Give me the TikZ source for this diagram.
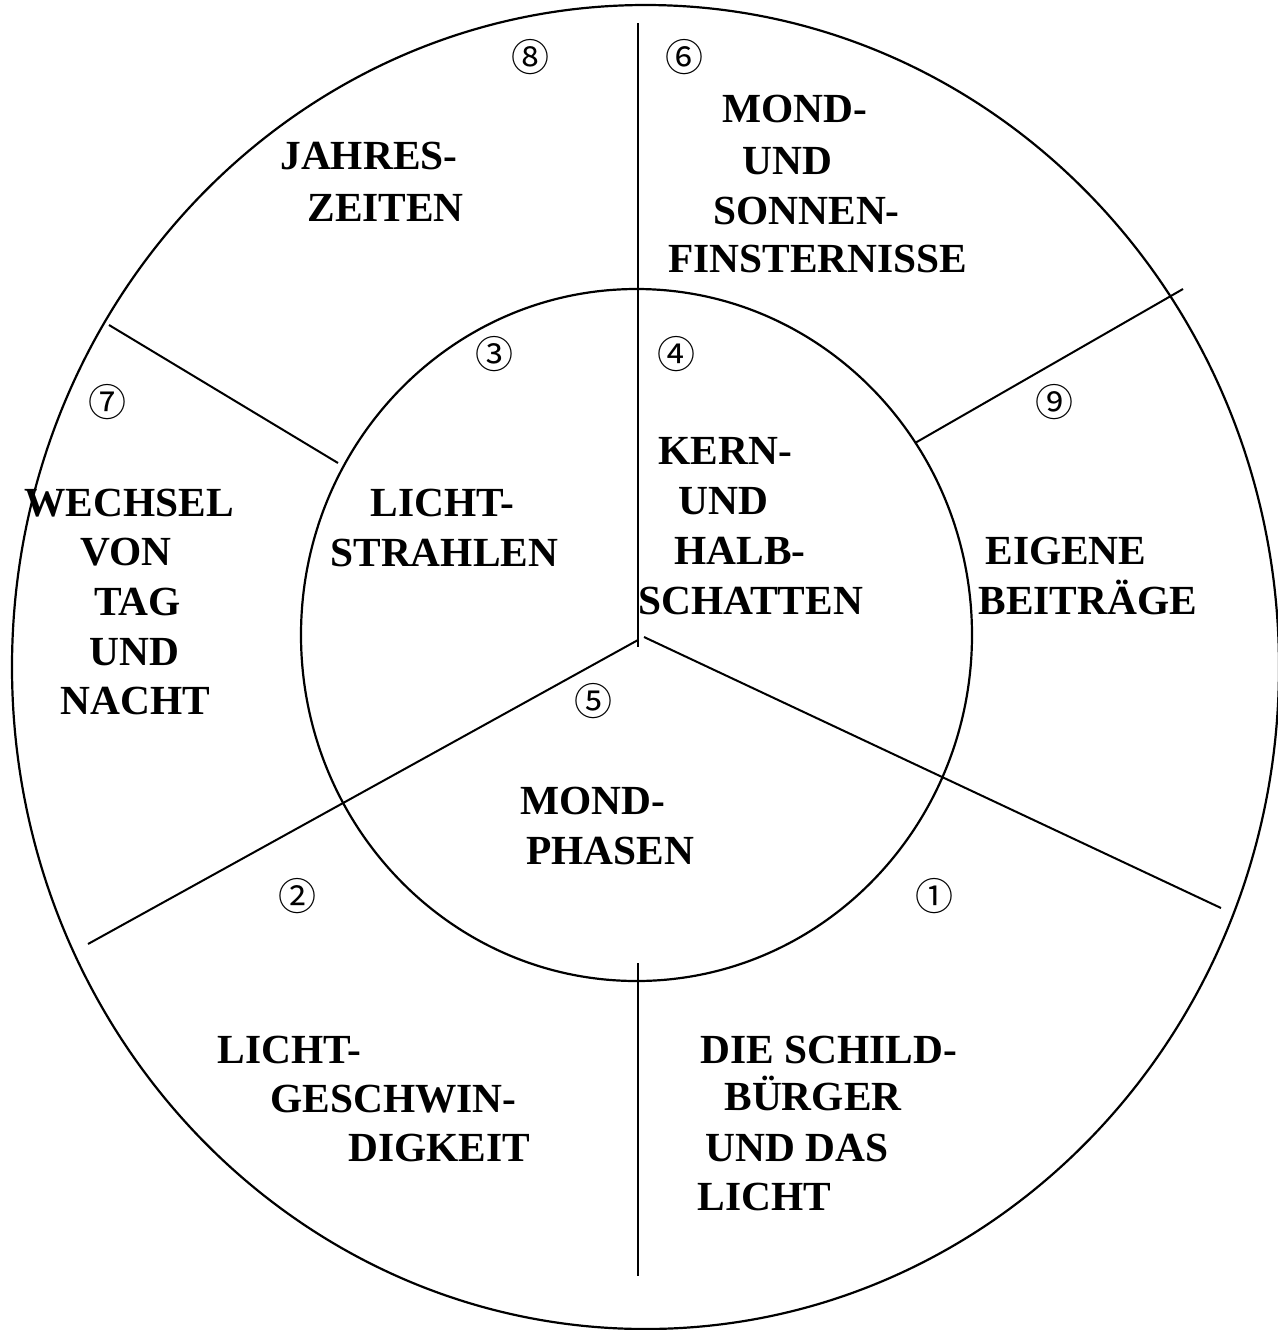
\documentclass[tikz,border=0pt]{standalone}
\usepackage{fontspec}
\setmainfont{Liberation Serif}
\newfontfamily\cnum{Noto Sans CJK JP}
\begin{document}
\begin{tikzpicture}[x=0.5pt,y=-0.5pt,
  lbl/.style={font=\bfseries\fontsize{20.7}{25}\selectfont, inner sep=0pt, anchor=base west},
  num/.style={font=\cnum\fontsize{19}{19}\selectfont, inner sep=0pt, anchor=center},
  ring/.style={line width=1.1pt},
  divider/.style={line width=1pt}]
\useasboundingbox (0,0) rectangle (1278,1330);
% circles
\draw[ring] (645.5,667) ellipse [x radius=316.75pt, y radius=331pt];
\draw[ring] (636.5,635) ellipse [x radius=167.75pt, y radius=173pt];
% divider end points
\coordinate (tv1) at (638,23);
\coordinate (tv2) at (638,647);
\coordinate (apR) at (644,637);
\coordinate (lr) at (1221,908);
\coordinate (apL) at (638,640);
\coordinate (ll) at (88,944);
\coordinate (bv1) at (638,963);
\coordinate (bv2) at (638,1276);
\coordinate (ul1) at (109,325);
\coordinate (ul2) at (338,463);
\coordinate (ur1) at (915,443);
\coordinate (ur2) at (1183,289);
\draw[divider] (tv1) -- (tv2);
\draw[divider] (apR) -- (lr);
\draw[divider] (apL) -- (ll);
\draw[divider] (bv1) -- (bv2);
\draw[divider] (ul1) -- (ul2);
\draw[divider] (ur1) -- (ur2);
% numbers
\node[num] (n8) at (530,57) {⑧};
\node[num] (n6) at (684,57) {⑥};
\node[num] (n3) at (494,354) {③};
\node[num] (n4) at (676,354) {④};
\node[num] (n7) at (107,402) {⑦};
\node[num] (n9) at (1054,402) {⑨};
\node[num] (n5) at (593,701) {⑤};
\node[num] (n2) at (297,896) {②};
\node[num] (n1) at (934,896) {①};
% labels
\node[lbl] (j1) at (280,169) {JAHRES-};
\node[lbl] (j2) at (307,221) {ZEITEN};
\node[lbl] (m1) at (722,122) {MOND-};
\node[lbl] (m2) at (742,174) {UND};
\node[lbl] (m3) at (713,224) {SONNEN-};
\node[lbl] (m4) at (668,272) {FINSTERNISSE};
\node[lbl] (w1) at (24,516) {WECHSEL};
\node[lbl] (w2) at (80,565) {VON};
\node[lbl] (w3) at (94,615) {TAG};
\node[lbl] (w4) at (89,665) {UND};
\node[lbl] (w5) at (60,714) {NACHT};
\node[lbl] (ls1) at (370,516) {LICHT-};
\node[lbl] (ls2) at (330,566) {STRAHLEN};
\node[lbl] (k1) at (658,464) {KERN-};
\node[lbl] (k2) at (678,514) {UND};
\node[lbl] (k3) at (674,564) {HALB-};
\node[lbl] (k4) at (638,614) {SCHATTEN};
\node[lbl] (e1) at (985,564) {EIGENE};
\node[lbl] (e2) at (978,614) {BEITRÄGE};
\node[lbl] (p1) at (520,814) {MOND-};
\node[lbl] (p2) at (526,864) {PHASEN};
\node[lbl] (g1) at (217,1063) {LICHT-};
\node[lbl] (g2) at (270,1112) {GESCHWIN-};
\node[lbl] (g3) at (348,1161) {DIGKEIT};
\node[lbl] (s1) at (700,1063) {DIE SCHILD-};
\node[lbl] (s2) at (724,1110) {BÜRGER};
\node[lbl] (s3) at (705,1161) {UND DAS};
\node[lbl] (s4) at (697,1210) {LICHT};
\end{tikzpicture}
\end{document}
